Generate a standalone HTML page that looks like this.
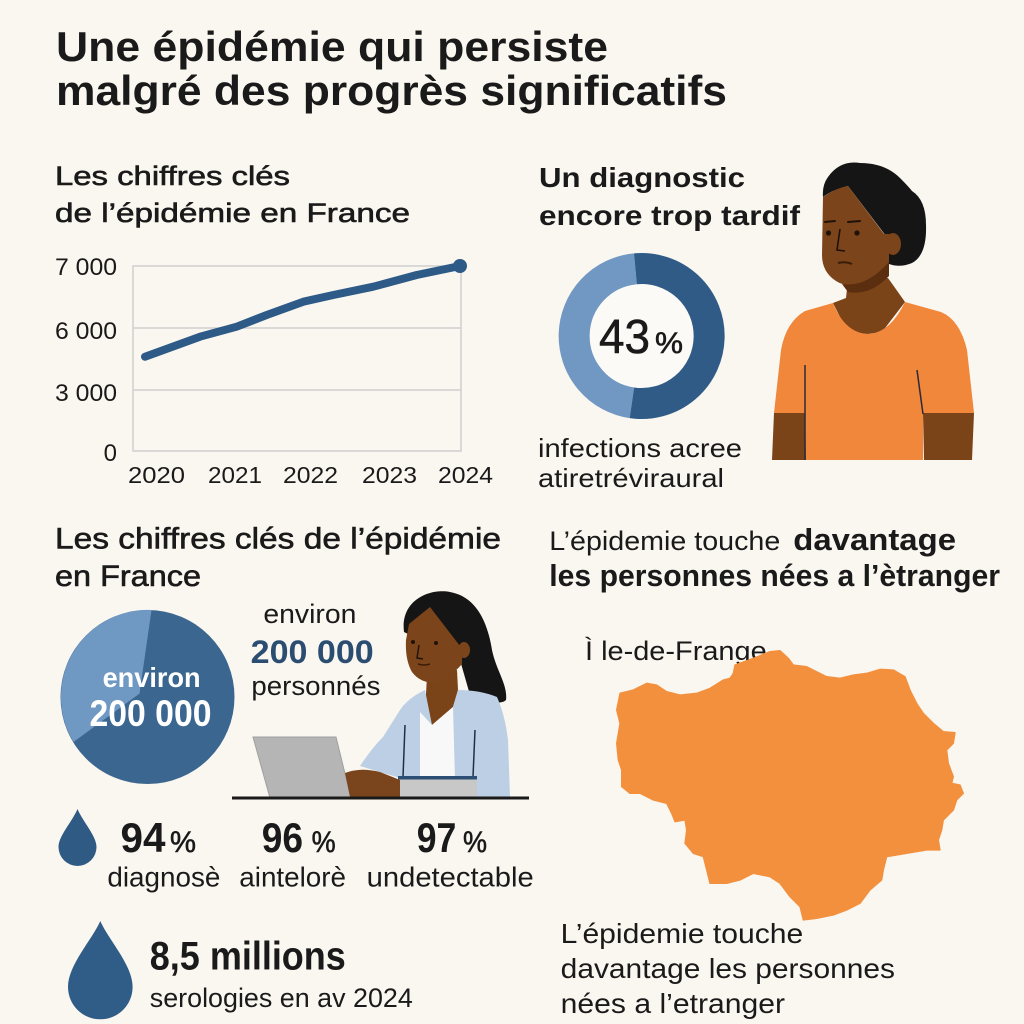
<!DOCTYPE html>
<html><head><meta charset="utf-8"><style>
html,body{margin:0;padding:0;background:#faf6f0;}
svg{display:block;}
text{font-family:"Liberation Sans",sans-serif;fill:#1a1a1a;}
.b{font-weight:bold;}
.m{stroke:#1a1a1a;stroke-width:0.6;}
</style></head><body>
<svg width="1024" height="1024" viewBox="0 0 1024 1024" xmlns="http://www.w3.org/2000/svg">
<rect width="1024" height="1024" fill="#faf6f0"/>

<!-- Title -->
<text x="56" y="61" font-size="42" class="b" textLength="552" lengthAdjust="spacingAndGlyphs">Une épidémie qui persiste</text>
<text x="56" y="105" font-size="42" class="b" textLength="671" lengthAdjust="spacingAndGlyphs">malgré des progrès significatifs</text>

<!-- Section 1 left heading -->
<text x="55" y="185" font-size="27" class="m" textLength="235" lengthAdjust="spacingAndGlyphs">Les chiffres clés</text>
<text x="55" y="222" font-size="27" class="m" textLength="355" lengthAdjust="spacingAndGlyphs">de l’épidémie en France</text>

<!-- Chart -->
<rect x="133" y="266" width="328" height="185" fill="none" stroke="#cfcfcf" stroke-width="1.5"/>
<line x1="133" y1="328" x2="461" y2="328" stroke="#cfcfcf" stroke-width="1.5"/>
<line x1="133" y1="390" x2="461" y2="390" stroke="#cfcfcf" stroke-width="1.5"/>
<text x="117" y="275" font-size="24" text-anchor="end" textLength="62" lengthAdjust="spacingAndGlyphs">7 000</text>
<text x="117" y="339" font-size="24" text-anchor="end" textLength="62" lengthAdjust="spacingAndGlyphs">6 000</text>
<text x="117" y="401" font-size="24" text-anchor="end" textLength="62" lengthAdjust="spacingAndGlyphs">3 000</text>
<text x="117" y="461" font-size="24" text-anchor="end">0</text>
<text x="128" y="483" font-size="23" textLength="57" lengthAdjust="spacingAndGlyphs">2020</text>
<text x="208" y="483" font-size="23" textLength="54" lengthAdjust="spacingAndGlyphs">2021</text>
<text x="283" y="483" font-size="23" textLength="55" lengthAdjust="spacingAndGlyphs">2022</text>
<text x="362" y="483" font-size="23" textLength="55" lengthAdjust="spacingAndGlyphs">2023</text>
<text x="438" y="483" font-size="23" textLength="55" lengthAdjust="spacingAndGlyphs">2024</text>
<polyline points="145,356.7 200,336.7 236.7,326.7 266.7,315 303.3,301.7 333.3,295 373.3,286.7 416.7,275 460,266" fill="none" stroke="#2d5a86" stroke-width="8" stroke-linecap="round" stroke-linejoin="round"/>
<circle cx="460" cy="266" r="7" fill="#2d5a86"/>

<!-- Section 1 right heading -->
<text x="539" y="187" font-size="28" class="b" textLength="206" lengthAdjust="spacingAndGlyphs">Un diagnostic</text>
<text x="539" y="225" font-size="28" class="b" textLength="261" lengthAdjust="spacingAndGlyphs">encore trop tardif</text>

<!-- Donut -->
<circle cx="641.3" cy="336" r="52" fill="#fcfaf6"/>
<path d="M 631.9 402.8 A 67.5 67.5 0 0 1 635.4 268.8" fill="none" stroke="#7098c2" stroke-width="31"/>
<path d="M 635.4 268.8 A 67.5 67.5 0 1 1 631.9 402.8" fill="none" stroke="#2f5b86" stroke-width="31"/>
<text x="599" y="353" font-size="48" class="m" textLength="51" lengthAdjust="spacingAndGlyphs">43</text>
<text x="655" y="353" font-size="30" class="m" textLength="28" lengthAdjust="spacingAndGlyphs">%</text>
<text x="538" y="457" font-size="26" textLength="204" lengthAdjust="spacingAndGlyphs">infections acree</text>
<text x="538" y="487" font-size="26" textLength="186" lengthAdjust="spacingAndGlyphs">atiretréviraural</text>

<!-- Person 1 -->
<path d="M 828,177 Q 840,160 860,163 Q 885,163 900,178 Q 908,186 912,191 Q 926,200 926,225 Q 927,255 912,263 Q 900,268 889,264 L 889,240 L 848,186 Q 832,190 823,197 Q 822,185 828,177 Z" fill="#151515"/>
<path d="M 848,280 L 888,278 L 905,302 L 882,332 L 868,334 L 848,333 L 833,303 L 846,298 Z" fill="#7a4318"/>
<path d="M 823,197 Q 836,188 848,186 L 884,234 L 889,234 L 889,262 Q 878,280 860,285 Q 845,287 836,281 Q 822,272 822,255 Z" fill="#7b441a"/>
<path d="M 842,284 Q 866,288 889,262 L 889,276 Q 870,296 848,292 Z" fill="#5a2e0e"/>
<ellipse cx="893" cy="244" rx="8" ry="11" fill="#7b441a"/>
<circle cx="828.5" cy="233" r="2.6" fill="#1e120a"/>
<circle cx="857" cy="233" r="2.6" fill="#1e120a"/>
<path d="M 825,222 L 835,221" stroke="#1e120a" stroke-width="2" stroke-linecap="round"/>
<path d="M 848,222 L 860,221" stroke="#1e120a" stroke-width="2" stroke-linecap="round"/>
<path d="M 840,229 L 837,250 L 845,251" fill="none" stroke="#1e120a" stroke-width="1.6"/>
<path d="M 838,263 Q 845,261 852,264" fill="none" stroke="#3a1d08" stroke-width="2"/>
<path d="M 833,303 L 805,311 Q 786,322 781,350 L 774,413 L 805,413 L 805,460 L 923,460 L 923,413 L 974,413 L 967,350 Q 960,320 941,312 L 905,302 Q 890,333 868,334 Q 845,333 833,303 Z" fill="#f0873a"/>
<path d="M 774,413 L 805,413 L 806,460 L 772,460 Z" fill="#7a4318"/>
<path d="M 923,413 L 974,413 L 972,460 L 924,460 Z" fill="#7a4318"/>
<path d="M 805,365 L 805,460" stroke="#2a2a3a" stroke-width="1.5"/>
<path d="M 917,370 L 923,414" stroke="#2a2a3a" stroke-width="1.5"/>

<!-- Section 2 left heading -->
<text x="55" y="548.6" font-size="30" class="m" textLength="446" lengthAdjust="spacingAndGlyphs">Les chiffres clés de l’épidémie</text>
<text x="55" y="586" font-size="30" class="m" textLength="146" lengthAdjust="spacingAndGlyphs">en France</text>

<!-- Pie -->
<circle cx="147.5" cy="697" r="87" fill="#3a6690"/>
<path d="M 139.5 693.6 L 151.5 610 A 87 87 0 0 0 73.5 742 Z" fill="#6f98c3"/>
<text x="102.6" y="687" font-size="28" class="b" style="fill:#fff" textLength="98" lengthAdjust="spacingAndGlyphs">environ</text>
<text x="89.5" y="726" font-size="37" class="b" style="fill:#fff" textLength="122" lengthAdjust="spacingAndGlyphs">200 000</text>

<text x="263.4" y="623" font-size="27" textLength="93" lengthAdjust="spacingAndGlyphs">environ</text>
<text x="250.7" y="663" font-size="32" class="b" style="fill:#2b4d72" textLength="123" lengthAdjust="spacingAndGlyphs">200 000</text>
<text x="251.4" y="695" font-size="27" textLength="129" lengthAdjust="spacingAndGlyphs">personnés</text>

<!-- Person 2 -->
<path d="M 404,632 C 400,600 430,588 450,592 C 478,597 488,625 492,650 C 496,670 508,685 506,700 C 500,706 485,700 470,695 L 460,660 Z" fill="#151515"/>
<path d="M 427,676 L 457,670 L 458,690 L 453,707 L 432,725 L 425,712 Z" fill="#7a4318"/>
<path d="M 409,624 Q 420,615 430,607 L 460,646 L 462,646 L 462,664 Q 450,678 436,683 Q 420,683 412,672 Q 405,660 406,640 Z" fill="#7b441a"/>
<ellipse cx="464" cy="650" rx="6" ry="8" fill="#7b441a"/>
<circle cx="413" cy="642" r="2" fill="#1e120a"/>
<circle cx="436" cy="643" r="2" fill="#1e120a"/>
<path d="M 419,645 L 417,658 L 423,659" fill="none" stroke="#1e120a" stroke-width="1.4"/>
<path d="M 418,664 Q 424,666 430,664" fill="none" stroke="#3a1d08" stroke-width="1.6"/>
<path d="M 360,766 Q 372,748 383,737 L 400,710 Q 408,698 425,690 L 432,725 L 453,707 L 458,690 Q 480,690 497,697 Q 505,715 508,740 L 510,797 L 400,797 L 400,778 L 380,772 Z" fill="#bccfe4"/>
<path d="M 420,712 L 432,725 L 453,707 L 455,780 L 420,780 Z" fill="#f8f8f8"/>
<path d="M 405,725 L 403,777" stroke="#1f2f4a" stroke-width="1.5"/>
<path d="M 475,730 L 473,777" stroke="#1f2f4a" stroke-width="1.5"/>
<path d="M 253,737 L 336,737 L 351,798 L 270,798 Z" fill="#b5b5b5" stroke="#a0a0a0" stroke-width="1"/>
<rect x="399" y="779" width="78" height="18" fill="#c8c8c8"/>
<rect x="398" y="776" width="79" height="3.5" fill="#2d4f75"/>
<path d="M 345,773 Q 360,767 380,772 L 400,780 L 400,797 L 350,797 Z" fill="#7a451c"/>
<line x1="232" y1="798" x2="529" y2="798" stroke="#1a1a1a" stroke-width="3"/>

<!-- Drop 1 and stats -->
<path d="M 77.5,809 C 72,822 58.5,836 58.5,847 A 19 19 0 0 0 96.5,847 C 96.5,836 83,822 77.5,809 Z" fill="#2e5a84"/>
<text x="120.5" y="852" font-size="42" class="b" textLength="45" lengthAdjust="spacingAndGlyphs">94</text>
<text x="170" y="852" font-size="30" class="m" textLength="26" lengthAdjust="spacingAndGlyphs">%</text>
<text x="107.4" y="886.5" font-size="28" textLength="113" lengthAdjust="spacingAndGlyphs">diagnosè</text>
<text x="261.7" y="852" font-size="42" class="b" textLength="41.3" lengthAdjust="spacingAndGlyphs">96</text>
<text x="311.6" y="852" font-size="30" class="m" textLength="24" lengthAdjust="spacingAndGlyphs">%</text>
<text x="239.3" y="886.5" font-size="28" textLength="106.7" lengthAdjust="spacingAndGlyphs">aintelorè</text>
<text x="416.7" y="852" font-size="42" class="b" textLength="39.6" lengthAdjust="spacingAndGlyphs">97</text>
<text x="463" y="852" font-size="30" class="m" textLength="24" lengthAdjust="spacingAndGlyphs">%</text>
<text x="366.7" y="886.5" font-size="28" textLength="167" lengthAdjust="spacingAndGlyphs">undetectable</text>

<!-- Drop 2 -->
<path d="M 100.3,921 C 92,940 68,965 68,987 A 32.3 32.3 0 0 0 132.6,987 C 132.6,965 108.6,940 100.3,921 Z" fill="#2f5d88"/>
<text x="149.8" y="969.5" font-size="40" class="b" textLength="196" lengthAdjust="spacingAndGlyphs">8,5 millions</text>
<text x="149.8" y="1007" font-size="27" textLength="263" lengthAdjust="spacingAndGlyphs">serologies en av 2024</text>

<!-- Right section 2 -->
<text x="549.3" y="550" font-size="27" textLength="231" lengthAdjust="spacingAndGlyphs">L’épidemie touche</text>
<text x="793.3" y="550" font-size="31" class="b" textLength="162.7" lengthAdjust="spacingAndGlyphs">davantage</text>
<text x="549.3" y="586" font-size="31" class="b" textLength="450.7" lengthAdjust="spacingAndGlyphs">les personnes nées a l’ètranger</text>
<text x="585" y="660" font-size="27" textLength="181.7" lengthAdjust="spacingAndGlyphs">Ì le-de-Frange</text>

<g transform="translate(540,510) scale(0.33333)">
<path d="M 580,490 L 585,465 L 640,445 L 690,425 L 720,422 L 745,445 L 760,465 L 800,470 L 830,485 L 860,500 L 900,505 L 940,495 L 980,490 L 1020,478 L 1060,480 L 1095,500 L 1110,540 L 1130,580 L 1150,610 L 1180,640 L 1210,665 L 1245,668 L 1240,700 L 1220,720 L 1225,760 L 1240,800 L 1235,820 L 1260,825 L 1270,850 L 1250,870 L 1240,900 L 1210,930 L 1205,960 L 1195,990 L 1200,1020 L 1160,1020 L 1100,1030 L 1040,1040 L 1030,1080 L 1025,1110 L 990,1140 L 960,1180 L 920,1200 L 880,1215 L 830,1225 L 790,1230 L 780,1190 L 750,1160 L 720,1120 L 690,1100 L 640,1090 L 600,1110 L 560,1120 L 510,1120 L 500,1080 L 490,1040 L 460,1030 L 435,1000 L 440,960 L 435,930 L 405,935 L 395,910 L 380,880 L 340,870 L 300,850 L 270,850 L 245,830 L 245,780 L 235,750 L 230,700 L 240,640 L 230,600 L 240,550 L 280,540 L 320,520 L 350,525 L 380,545 L 420,555 L 470,550 L 510,535 L 550,510 L 570,505 Z" fill="#f3903e" stroke="#f3903e" stroke-width="4" stroke-linejoin="round"/>
</g>

<text x="560.7" y="943" font-size="28" textLength="242.6" lengthAdjust="spacingAndGlyphs">L’épidemie touche</text>
<text x="560.7" y="978" font-size="28" textLength="334.3" lengthAdjust="spacingAndGlyphs">davantage les personnes</text>
<text x="560.7" y="1013" font-size="28" textLength="224.3" lengthAdjust="spacingAndGlyphs">nées a l’etranger</text>
</svg>
</body></html>
